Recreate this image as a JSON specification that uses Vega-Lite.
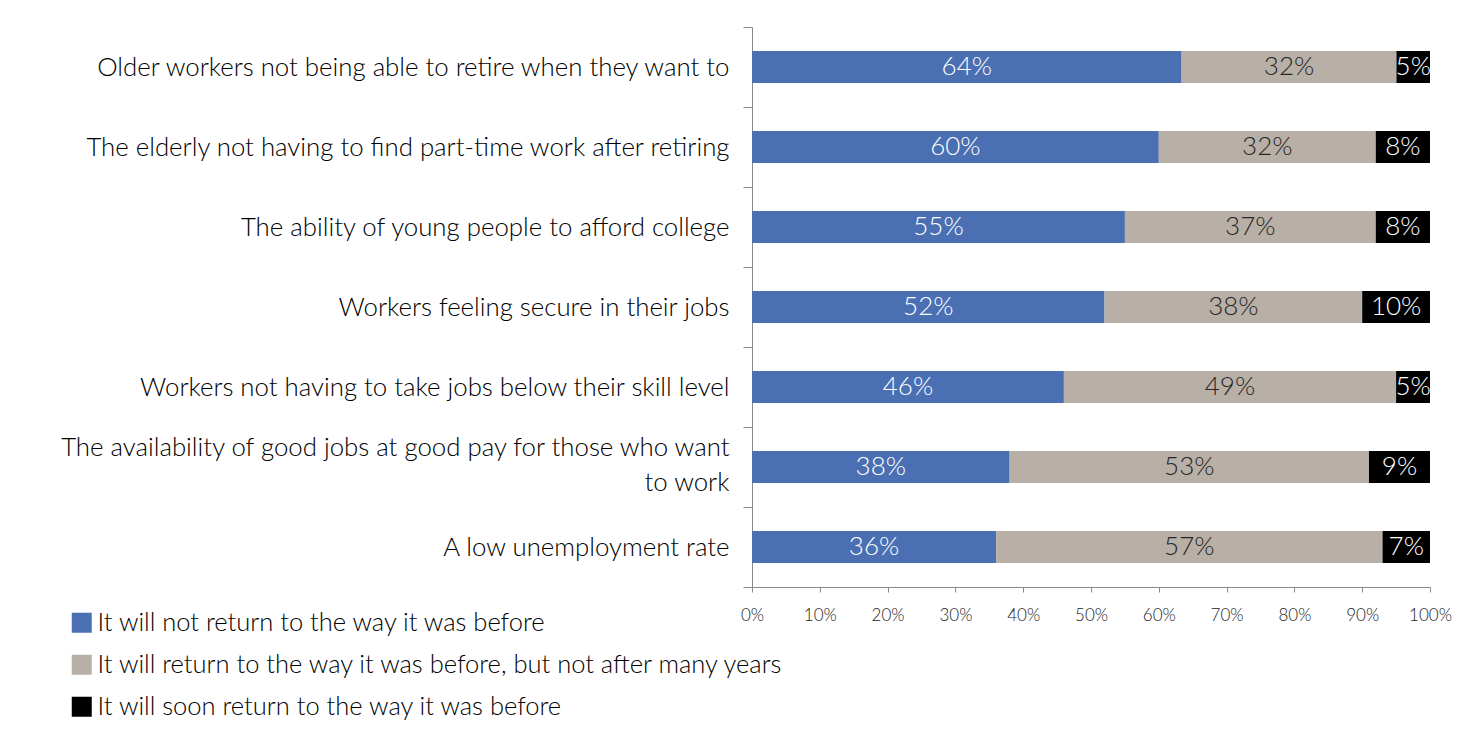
{
  "$schema": "https://vega.github.io/schema/vega-lite/v6.json",
  "width": 678,
  "height": 560,
  "autosize": {"type": "none"},
  "padding": {"left": 752, "top": 27, "right": 46, "bottom": 151},
  "background": "white",
  "config": {"view": {"stroke": null}, "font": "Lato"},
  "data": {
    "values": [
      {"category": "Older workers not being able to retire when they want to", "response": "It will not return to the way it was before", "order": 1, "value": 0.64},
      {"category": "Older workers not being able to retire when they want to", "response": "It will return to the way it was before, but not after many years", "order": 2, "value": 0.32},
      {"category": "Older workers not being able to retire when they want to", "response": "It will soon return to the way it was before", "order": 3, "value": 0.05},
      {"category": "The elderly not having to find part-time work after retiring", "response": "It will not return to the way it was before", "order": 1, "value": 0.60},
      {"category": "The elderly not having to find part-time work after retiring", "response": "It will return to the way it was before, but not after many years", "order": 2, "value": 0.32},
      {"category": "The elderly not having to find part-time work after retiring", "response": "It will soon return to the way it was before", "order": 3, "value": 0.08},
      {"category": "The ability of young people to afford college", "response": "It will not return to the way it was before", "order": 1, "value": 0.55},
      {"category": "The ability of young people to afford college", "response": "It will return to the way it was before, but not after many years", "order": 2, "value": 0.37},
      {"category": "The ability of young people to afford college", "response": "It will soon return to the way it was before", "order": 3, "value": 0.08},
      {"category": "Workers feeling secure in their jobs", "response": "It will not return to the way it was before", "order": 1, "value": 0.52},
      {"category": "Workers feeling secure in their jobs", "response": "It will return to the way it was before, but not after many years", "order": 2, "value": 0.38},
      {"category": "Workers feeling secure in their jobs", "response": "It will soon return to the way it was before", "order": 3, "value": 0.10},
      {"category": "Workers not having to take jobs below their skill level", "response": "It will not return to the way it was before", "order": 1, "value": 0.46},
      {"category": "Workers not having to take jobs below their skill level", "response": "It will return to the way it was before, but not after many years", "order": 2, "value": 0.49},
      {"category": "Workers not having to take jobs below their skill level", "response": "It will soon return to the way it was before", "order": 3, "value": 0.05},
      {"category": "The availability of good jobs at good pay for those who want|to work", "response": "It will not return to the way it was before", "order": 1, "value": 0.38},
      {"category": "The availability of good jobs at good pay for those who want|to work", "response": "It will return to the way it was before, but not after many years", "order": 2, "value": 0.53},
      {"category": "The availability of good jobs at good pay for those who want|to work", "response": "It will soon return to the way it was before", "order": 3, "value": 0.09},
      {"category": "A low unemployment rate", "response": "It will not return to the way it was before", "order": 1, "value": 0.36},
      {"category": "A low unemployment rate", "response": "It will return to the way it was before, but not after many years", "order": 2, "value": 0.57},
      {"category": "A low unemployment rate", "response": "It will soon return to the way it was before", "order": 3, "value": 0.07}
    ]
  },
  "transform": [
    {"stack": "value", "groupby": ["category"], "sort": [{"field": "order", "order": "ascending"}], "offset": "normalize", "as": ["x0", "x1"]},
    {"calculate": "(datum.x0 + datum.x1) / 2", "as": "xm"}
  ],
  "encoding": {
    "y": {
      "field": "category",
      "type": "nominal",
      "sort": null,
      "title": null,
      "scale": {"paddingInner": 0, "paddingOuter": 0},
      "axis": {
        "labelExpr": "split(datum.label, '|')",
        "labelFont": "Lato",
        "labelFontSize": 25.8,
        "labelFontWeight": 300,
        "labelColor": "#000000",
        "labelLimit": 900,
        "labelLineHeight": 35,
        "labelPadding": 14,
        "labelOffset": {"condition": {"test": "indexof(datum.label, '|') >= 0", "value": -20}, "value": 0},
        "tickBand": "extent",
        "tickSize": 9,
        "tickColor": "#888888",
        "domainColor": "#888888",
        "grid": false
      }
    }
  },
  "layer": [
    {
      "mark": {"type": "bar", "size": 32},
      "encoding": {
        "x": {
          "field": "x0",
          "type": "quantitative",
          "title": null,
          "scale": {"domain": [0, 1], "nice": false},
          "axis": {
            "format": ".0%",
            "values": [0, 0.1, 0.2, 0.3, 0.4, 0.5, 0.6, 0.7, 0.8, 0.9, 1],
            "labelFont": "Lato",
            "labelFontSize": 17,
            "labelFontWeight": 300,
            "labelColor": "#222222",
            "labelFlush": false,
            "labelPadding": 15,
            "tickSize": 5,
            "tickColor": "#888888",
            "domainColor": "#888888",
            "grid": false
          }
        },
        "x2": {"field": "x1"},
        "color": {
          "field": "response",
          "type": "nominal",
          "scale": {
            "domain": ["It will not return to the way it was before", "It will return to the way it was before, but not after many years", "It will soon return to the way it was before"],
            "range": ["#4A6FB3", "#B8B0A7", "#000000"]
          },
          "legend": {
            "title": null,
            "orient": "none",
            "legendX": -683,
            "legendY": 583,
            "padding": 0,
            "symbolType": "square",
            "symbolSize": 400,
            "symbolStrokeWidth": 0,
            "labelFont": "Lato",
            "labelFontSize": 25.5,
            "labelFontWeight": 300,
            "labelColor": "#000000",
            "labelLimit": 900,
            "labelOffset": 3,
            "rowPadding": 15
          }
        }
      }
    },
    {
      "mark": {"type": "text", "fontSize": 26, "font": "Lato", "fontWeight": 300},
      "encoding": {
        "x": {"field": "xm", "type": "quantitative"},
        "text": {"field": "value", "type": "quantitative", "format": ".0%"},
        "color": {"condition": {"test": "datum.order == 2", "value": "#262626"}, "value": "#ffffff"}
      }
    }
  ]
}
